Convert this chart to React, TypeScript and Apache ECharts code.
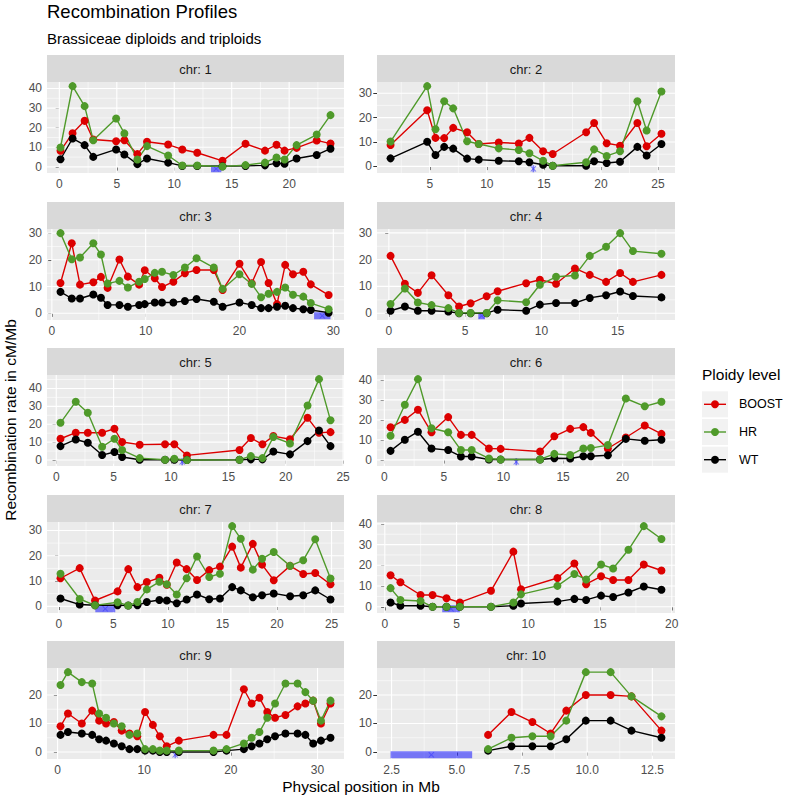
import React, { useEffect, useRef } from "react";
import * as echarts from "echarts";

const FONT = '"Liberation Sans", Arial, Helvetica, sans-serif';

// ---------- data ----------
const seriesNames = ["BOOST", "HR", "WT"];
const seriesColors = ["#DC0000", "#4F9A2A", "#000000"];
const centromereY = -1;

const chr1Pos = [0.1, 1.15, 2.2, 2.95, 4.94, 5.66, 6.79, 7.63, 9.47, 10.7, 12.0, 14.2, 16.2, 17.9, 18.9, 19.6, 20.65, 22.4, 23.6];
const chr1Boost = [8.2, 17.2, 23.5, 14.0, 13.1, 13.6, 6.5, 12.8, 11.4, 8.9, 7.2, 3.1, 11.8, 8.3, 11.3, 8.3, 9.7, 13.5, 11.9];
const chr1HR = [9.9, 41.2, 31.0, 13.6, 24.7, 17.1, 3.8, 10.6, 5.8, 0.7, 0.7, 0.2, 0.9, 2.2, 4.8, 3.8, 11.1, 16.5, 26.4];
const chr1WT = [3.9, 14.5, 11.1, 5.1, 8.9, 6.3, 1.4, 4.3, 2.2, 0.5, 0.5, 0.3, 0.5, 0.8, 1.9, 1.6, 4.3, 6.1, 9.3];
const chr1Cen = [13.2, 14.1];

const chr2Pos = [1.56, 4.77, 5.5, 6.26, 7.05, 8.27, 9.29, 11.04, 12.8, 13.73, 14.93, 15.77, 18.7, 19.4, 20.5, 21.67, 23.19, 24.0, 25.3];
const chr2Boost = [8.8, 23.0, 11.7, 11.6, 15.8, 14.0, 9.2, 9.8, 9.4, 11.7, 6.2, 5.1, 14.0, 17.8, 9.5, 8.5, 17.8, 8.3, 13.4];
const chr2HR = [10.2, 32.9, 15.2, 26.7, 23.8, 10.3, 9.2, 7.4, 6.7, 5.4, 2.3, 0.3, 1.7, 7.0, 4.3, 6.2, 26.7, 14.7, 30.7];
const chr2WT = [3.3, 10.1, 4.7, 8.0, 7.3, 3.2, 2.8, 2.3, 2.1, 1.7, 0.7, 0.3, 0.3, 2.1, 1.4, 1.9, 8.0, 4.5, 9.2];
const chr2Cen = [14.0, 14.15];

const chr3Pos = [0.92, 2.12, 3.0, 4.42, 5.23, 5.94, 7.2, 8.1, 9.3, 9.9, 10.97, 11.74, 12.95, 14.18, 15.42, 17.26, 18.2, 20.0, 21.3, 22.3, 23.1, 24.0, 24.87, 25.7, 26.8, 27.6, 29.5];
const chr3Boost = [11.3, 26.2, 10.7, 11.6, 13.6, 9.5, 20.1, 13.7, 10.7, 16.1, 13.1, 9.8, 11.8, 15.0, 16.2, 16.2, 8.7, 18.5, 11.2, 19.2, 11.3, 3.4, 18.1, 14.6, 15.5, 10.8, 6.8];
const chr3HR = [30.0, 20.2, 20.9, 26.2, 22.0, 11.1, 12.1, 9.6, 11.8, 12.8, 15.1, 15.5, 14.3, 17.1, 20.6, 17.1, 9.1, 14.6, 11.0, 6.0, 7.3, 8.0, 9.6, 6.9, 6.2, 3.8, 1.5];
const chr3WT = [8.0, 5.5, 5.5, 7.0, 5.8, 3.1, 3.1, 2.4, 3.1, 3.4, 4.0, 4.0, 4.0, 4.6, 5.3, 4.3, 2.4, 4.0, 3.1, 1.9, 1.9, 2.4, 2.8, 1.9, 1.5, 1.2, 0.2];
const chr3Cen = [27.95, 29.7];

const chr4Pos = [0.11, 1.05, 1.9, 2.8, 3.9, 4.6, 5.36, 6.41, 7.13, 9.0, 9.9, 10.96, 12.2, 13.17, 14.24, 15.16, 16.0, 17.87];
const chr4Boost = [21.4, 11.0, 7.6, 14.2, 6.7, 2.5, 3.7, 6.3, 8.2, 11.2, 12.5, 11.0, 16.7, 14.3, 11.7, 15.0, 11.7, 14.3];
const chr4HR = [3.4, 9.2, 4.0, 3.0, 1.9, 0.1, 0.1, 0.1, 4.8, 4.1, 10.6, 13.6, 14.1, 21.4, 24.8, 29.9, 23.2, 22.2];
const chr4WT = [0.9, 2.5, 0.9, 0.9, 0.6, 0.0, 0.0, 0.0, 1.3, 0.9, 3.2, 3.8, 3.8, 5.7, 6.7, 8.1, 6.4, 5.9];
const chr4Cen = [5.86, 6.3];

const chr5Pos = [0.37, 1.7, 2.75, 4.0, 5.07, 5.74, 7.27, 9.48, 10.29, 11.39, 15.97, 16.96, 17.97, 18.92, 20.37, 21.9, 22.9, 23.9];
const chr5Boost = [11.9, 15.3, 15.3, 15.3, 17.5, 10.1, 8.6, 8.8, 8.8, 2.6, 5.6, 12.3, 8.8, 13.4, 11.6, 23.6, 15.3, 15.6];
const chr5HR = [20.8, 32.6, 26.4, 7.4, 11.9, 5.6, 1.1, 0.2, 0.7, 0.0, 0.2, 2.2, 1.1, 12.9, 9.3, 30.5, 45.2, 22.2];
const chr5WT = [7.8, 11.5, 9.7, 2.8, 4.5, 1.7, 0.2, 0.2, 0.2, 0.0, 0.2, 0.4, 0.4, 4.8, 3.2, 10.6, 16.5, 7.8];
const chr5Cen = [10.9, 11.05];

const chr6Pos = [0.52, 1.72, 2.82, 3.96, 5.36, 6.43, 7.33, 8.78, 9.76, 13.07, 14.27, 15.6, 16.7, 17.33, 18.76, 20.27, 21.86, 23.26];
const chr6Boost = [16.3, 20.0, 25.1, 13.8, 21.4, 12.5, 12.5, 5.7, 5.5, 4.2, 11.8, 15.5, 16.4, 13.5, 5.7, 11.2, 17.2, 13.0];
const chr6HR = [12.1, 27.6, 40.4, 15.8, 13.8, 4.9, 4.9, 0.7, 0.2, 0.2, 3.0, 2.4, 5.7, 5.9, 7.4, 30.7, 26.8, 29.1];
const chr6WT = [4.5, 10.1, 14.1, 5.7, 4.9, 1.7, 1.7, 0.2, 0.2, 0.2, 0.8, 0.7, 1.8, 1.8, 2.3, 10.5, 9.6, 10.1];
const chr6Cen = [11.0, 11.15];

const chr7Pos = [0.16, 1.92, 3.32, 5.39, 6.37, 7.21, 8.07, 9.22, 9.9, 10.81, 11.72, 12.67, 13.79, 14.77, 15.89, 16.68, 17.78, 18.63, 19.7, 21.2, 22.4, 23.5, 24.9];
const chr7Boost = [11.1, 15.1, 2.3, 5.9, 14.7, 7.6, 9.6, 11.3, 8.5, 17.3, 14.7, 10.4, 14.3, 15.7, 23.6, 15.3, 24.7, 16.5, 10.3, 16.0, 12.8, 13.2, 8.7];
const chr7HR = [12.9, 2.9, 0.4, 1.6, 0.3, 1.7, 6.7, 9.7, 8.7, 4.7, 11.1, 19.7, 11.6, 12.9, 31.7, 26.7, 14.5, 18.8, 21.5, 16.0, 18.2, 26.5, 11.0];
const chr7WT = [3.1, 0.7, 0.4, 0.4, 0.3, 0.4, 1.7, 2.5, 2.3, 1.2, 2.7, 4.7, 2.8, 3.1, 7.6, 6.3, 3.6, 4.4, 5.1, 4.0, 4.4, 6.3, 2.7];
const chr7Cen = [3.35, 5.18];

const chr8Pos = [0.4, 1.09, 2.49, 3.33, 4.3, 5.23, 7.4, 8.96, 9.49, 12.03, 13.21, 14.03, 15.07, 15.91, 16.98, 18.05, 19.28];
const chr8Boost = [15.2, 11.8, 5.7, 5.7, 4.1, 2.1, 7.7, 26.6, 8.5, 13.9, 20.9, 10.9, 14.7, 12.9, 12.9, 20.4, 17.5];
const chr8HR = [9.0, 3.3, 2.8, 0.0, 0.0, 0.0, 0.0, 2.1, 6.0, 10.1, 15.8, 13.2, 20.4, 18.5, 27.5, 38.9, 32.7];
const chr8WT = [2.1, 0.5, 0.5, 0.0, 0.0, 0.0, 0.0, 0.5, 1.6, 2.5, 3.8, 3.3, 5.4, 4.7, 6.9, 9.8, 8.2];
const chr8Cen = [4.0, 5.23];

const chr9Pos = [0.34, 1.2, 2.8, 4.0, 4.8, 5.6, 6.5, 7.4, 8.3, 9.2, 10.1, 11.0, 11.8, 12.6, 14.0, 18.0, 19.5, 21.5, 22.4, 23.3, 24.2, 25.1, 26.3, 27.7, 28.6, 29.5, 30.4, 31.5];
const chr9Boost = [9, 13.5, 10, 14.5, 11, 10, 10.5, 7.5, 6.5, 5.5, 14, 9.5, 5.5, 2, 4, 6, 6, 22, 17, 19, 14, 12, 13, 16, 17, 18, 10, 17];
const chr9HR = [23.5, 28, 24.5, 24, 13.5, 12, 10, 9, 6, 6.5, 1, 1, 0.5, 0.5, 0.5, 0.5, 1, 3, 5, 7, 12, 17, 24, 24, 21, 18, 11, 18];
const chr9WT = [6, 7, 6.5, 6, 4.5, 4, 3, 2, 1, 1, 0.5, 0.5, 0, 0, 0, 0, 0.5, 1, 2, 3, 4.5, 5.5, 6.5, 6.5, 6, 3, 4, 5];
const chr9Cen = [13.5, 13.65];

const chr10Pos = [6.2, 7.1, 7.9, 8.6, 9.2, 9.95, 10.9, 11.7, 12.85];
const chr10Boost = [6, 14, 10.5, 6.5, 14.5, 20, 20, 19.5, 7.5];
const chr10HR = [1, 5, 5.5, 5.5, 11, 28, 28, 19.5, 12.5];
const chr10WT = [0.5, 2, 2, 2, 4.5, 11, 11, 7.5, 5];
const chr10Cen = [2.46, 5.59];

const xSteps = [5, 5, 10, 5, 5, 5, 5, 5, 10, 2.5];
const ySteps = [10, 10, 10, 10, 10, 10, 10, 10, 10, 10];

const panels = [
  { label: "chr: 1", pos: chr1Pos, vals: [chr1Boost, chr1HR, chr1WT], cen: chr1Cen },
  { label: "chr: 2", pos: chr2Pos, vals: [chr2Boost, chr2HR, chr2WT], cen: chr2Cen },
  { label: "chr: 3", pos: chr3Pos, vals: [chr3Boost, chr3HR, chr3WT], cen: chr3Cen },
  { label: "chr: 4", pos: chr4Pos, vals: [chr4Boost, chr4HR, chr4WT], cen: chr4Cen },
  { label: "chr: 5", pos: chr5Pos, vals: [chr5Boost, chr5HR, chr5WT], cen: chr5Cen },
  { label: "chr: 6", pos: chr6Pos, vals: [chr6Boost, chr6HR, chr6WT], cen: chr6Cen },
  { label: "chr: 7", pos: chr7Pos, vals: [chr7Boost, chr7HR, chr7WT], cen: chr7Cen },
  { label: "chr: 8", pos: chr8Pos, vals: [chr8Boost, chr8HR, chr8WT], cen: chr8Cen },
  { label: "chr: 9", pos: chr9Pos, vals: [chr9Boost, chr9HR, chr9WT], cen: chr9Cen },
  { label: "chr: 10", pos: chr10Pos, vals: [chr10Boost, chr10HR, chr10WT], cen: chr10Cen },
];

// ---------- layout ----------
const COL_LEFT = [47, 377];
const COL_WIDTH = [297, 298];
const STRIP_TOP = [55, 202, 348, 495, 641];
const STRIP_H = 27;
const PLOT_H = 91;

const expand = (lo: number, hi: number) => {
  const d = (hi - lo) * 0.05;
  return [lo - d, hi + d];
};
const majors = (lo: number, hi: number, step: number) => {
  const out: number[] = [];
  for (let v = Math.ceil(lo / step - 1e-9) * step; v <= hi + 1e-9; v += step) out.push(+v.toFixed(6));
  return out;
};
const minors = (lo: number, hi: number, step: number) => {
  const out: number[] = [];
  for (let v = (Math.ceil(lo / step - 0.5) + 0.5) * step; v <= hi + 1e-9; v += step) if (v >= lo) out.push(+v.toFixed(6));
  return out;
};

const X_MARK = "path://M0,1.2L1.2,0L5,3.8L8.8,0L10,1.2L6.2,5L10,8.8L8.8,10L5,6.2L1.2,10L0,8.8L3.8,5Z";

function buildOption() {
  const grid: any[] = [];
  const xAxis: any[] = [];
  const yAxis: any[] = [];
  const series: any[] = [];
  const graphic: any[] = [];

  panels.forEach((p, i) => {
    const col = i % 2;
    const row = Math.floor(i / 2);
    const left = COL_LEFT[col];
    const width = COL_WIDTH[col];
    const stripTop = STRIP_TOP[row];
    const top = stripTop + STRIP_H;

    const xsAll = [...p.pos, ...p.cen];
    const ysAll = [...p.vals[0], ...p.vals[1], ...p.vals[2], centromereY];
    const [x0, x1] = expand(Math.min(...xsAll), Math.max(...xsAll));
    const [y0, y1] = expand(Math.min(...ysAll), Math.max(...ysAll));
    const xs = xSteps[i];
    const ys = ySteps[i];
    const xMaj = majors(x0, x1, xs);
    const yMaj = majors(y0, y1, ys);
    const xMin = minors(x0, x1, xs);
    const yMin = minors(y0, y1, ys);
    const xMid = (x0 + x1) / 2;
    const yMid = (y0 + y1) / 2;

    grid.push({ left, top, width, height: PLOT_H, show: true, backgroundColor: "#EBEBEB", borderWidth: 0, borderColor: "transparent" });

    const labelStyle = { color: "#4D4D4D", fontSize: 12, fontFamily: FONT };
    xAxis.push({
      type: "value", gridIndex: i, min: x0, max: x1,
      axisLine: { show: false },
      axisTick: { show: true, length: 3.7, lineStyle: { color: "#333333", width: 1 }, customValues: xMaj },
      axisLabel: { ...labelStyle, margin: 5, customValues: xMaj,
        formatter: (v: number) => (xs === 2.5 ? v.toFixed(1) : String(Math.round(v))) },
      splitLine: { show: false },
    });
    yAxis.push({
      type: "value", gridIndex: i, min: y0, max: y1,
      axisLine: { show: false },
      axisTick: { show: true, length: 3.7, lineStyle: { color: "#333333", width: 1 }, customValues: yMaj },
      axisLabel: { ...labelStyle, margin: 5, customValues: yMaj,
        formatter: (v: number) => String(Math.round(v)) },
      splitLine: { show: false },
    });

    // grid lines: [value, kind] kind 0 x-minor, 1 x-major, 2 y-minor, 3 y-major
    const gl: number[][] = [];
    xMin.forEach((v) => gl.push([v, 0]));
    yMin.forEach((v) => gl.push([v, 2]));
    xMaj.forEach((v) => gl.push([v, 1]));
    yMaj.forEach((v) => gl.push([v, 3]));
    series.push({
      type: "custom", xAxisIndex: i, yAxisIndex: i, silent: true, z: 1,
      data: gl,
      renderItem: (params: any, api: any) => {
        const v = api.value(0);
        const kind = api.value(1);
        const cs = params.coordSys;
        const lw = kind === 1 || kind === 3 ? 1.1 : 0.55;
        if (kind < 2) {
          const px = api.coord([v, yMid])[0];
          return { type: "line", shape: { x1: px, y1: cs.y, x2: px, y2: cs.y + cs.height }, style: { stroke: "#FFFFFF", lineWidth: lw } };
        }
        const py = api.coord([xMid, v])[1];
        return { type: "line", shape: { x1: cs.x, y1: py, x2: cs.x + cs.width, y2: py }, style: { stroke: "#FFFFFF", lineWidth: lw } };
      },
    });

    // centromere
    series.push({
      type: "line", xAxisIndex: i, yAxisIndex: i, silent: true, z: 2, symbol: "none",
      data: [[p.cen[0], centromereY], [p.cen[1], centromereY]],
      lineStyle: { color: "rgba(0,0,255,0.5)", width: 7, cap: "butt" },
    });
    series.push({
      type: "scatter", xAxisIndex: i, yAxisIndex: i, silent: true, z: 2,
      data: [[(p.cen[0] + p.cen[1]) / 2, centromereY]],
      symbol: X_MARK, symbolSize: 6, itemStyle: { color: "rgba(60,60,255,0.8)" },
    });

    // lines then points
    const order = [0, 2, 1];
    order.forEach((k) => {
      series.push({
        name: seriesNames[k], type: "line", xAxisIndex: i, yAxisIndex: i, z: 3, symbol: "none",
        data: p.pos.map((x, j) => [x, p.vals[k][j]]),
        lineStyle: { color: seriesColors[k], width: 1.4, type: "solid" },
      });
    });
    order.forEach((k, n) => {
      series.push({
        name: seriesNames[k], type: "scatter", xAxisIndex: i, yAxisIndex: i, z: 4 + n,
        data: p.pos.map((x, j) => [x, p.vals[k][j]]),
        symbol: "circle", symbolSize: 8, itemStyle: { color: seriesColors[k], opacity: 1 },
      });
    });

    // strip
    graphic.push({ type: "rect", shape: { x: left, y: stripTop, width, height: STRIP_H }, style: { fill: "#D9D9D9" }, silent: true });
    graphic.push({ type: "text", x: left + width / 2, y: stripTop + STRIP_H / 2 + 1, silent: true,
      style: { text: p.label, fill: "#1A1A1A", font: `13px ${FONT}`, align: "center", verticalAlign: "middle" } });
  });

  // titles
  graphic.push({ type: "text", x: 47, y: 11, style: { text: "Recombination Profiles", fill: "#000", font: `18.5px ${FONT}`, align: "left", verticalAlign: "middle" } });
  graphic.push({ type: "text", x: 47, y: 38, style: { text: "Brassiceae diploids and triploids", fill: "#000", font: `15px ${FONT}`, align: "left", verticalAlign: "middle" } });
  graphic.push({ type: "text", x: 361, y: 786, style: { text: "Physical position in Mb", fill: "#000", font: `15.5px ${FONT}`, align: "center", verticalAlign: "middle" } });
  graphic.push({ type: "text", x: 10, y: 420, rotation: Math.PI / 2, style: { text: "Recombination rate in cM/Mb", fill: "#000", font: `15.5px ${FONT}`, align: "center", verticalAlign: "middle" } });

  // legend
  graphic.push({ type: "text", x: 702, y: 374, style: { text: "Ploidy level", fill: "#000", font: `15.5px ${FONT}`, align: "left", verticalAlign: "middle" } });
  const keyCenters = [404.3, 432, 459.7];
  seriesNames.forEach((nm, k) => {
    const c = keyCenters[k];
    graphic.push({ type: "rect", shape: { x: 702, y: c - 13, width: 26, height: 26 }, style: { fill: "#F2F2F2" } });
    graphic.push({ type: "line", shape: { x1: 704, y1: c, x2: 726, y2: c }, style: { stroke: seriesColors[k], lineWidth: 1.4 } });
    graphic.push({ type: "circle", shape: { cx: 715, cy: c, r: 4 }, style: { fill: seriesColors[k] } });
    graphic.push({ type: "text", x: 739, y: c, style: { text: nm, fill: "#000", font: `12.5px ${FONT}`, align: "left", verticalAlign: "middle" } });
  });

  return { animation: false, backgroundColor: "#FFFFFF", grid, xAxis, yAxis, series, graphic };
}

export default function App() {
  const ref = useRef<HTMLDivElement>(null);
  useEffect(() => {
    if (!ref.current) return;
    const chart = echarts.init(ref.current, undefined, { renderer: "svg" });
    chart.setOption(buildOption() as any);
    return () => chart.dispose();
  }, []);
  return <div ref={ref} style={{ width: 792, height: 801, position: "absolute", left: 0, top: 0 }} />;
}
